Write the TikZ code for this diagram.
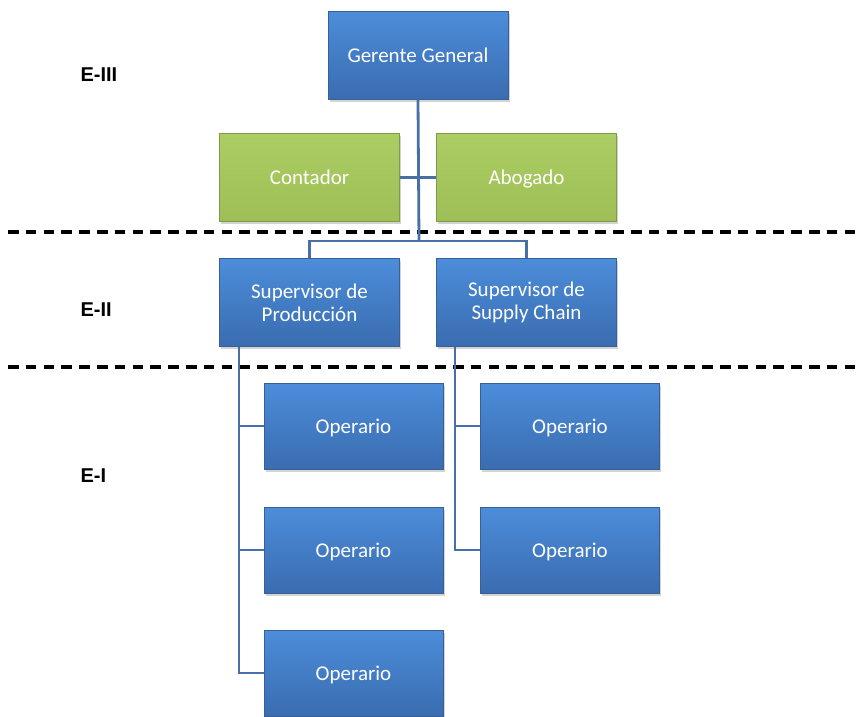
\documentclass[tikz,border=0pt]{standalone}
\usepackage{fontspec}
\usepackage{xcolor}
\usepackage{tikz}
\usetikzlibrary{shadows}
\newfontfamily\boxfont{Carlito}
\newfontfamily\lblfont{Liberation Sans}
\definecolor{boxtop}{RGB}{76,141,218}
\definecolor{boxbot}{RGB}{58,108,176}
\definecolor{boxedge}{RGB}{55,96,150}
\definecolor{grntop}{RGB}{172,204,100}
\definecolor{grnbot}{RGB}{158,190,86}
\definecolor{grnedge}{RGB}{128,155,72}
\definecolor{linkcol}{RGB}{72,112,166}

\begin{document}
\begin{tikzpicture}[
  x=1pt, y=-1pt,
  blu/.style={draw=boxedge, line width=0.8pt, top color=boxtop, bottom color=boxbot, text=white, align=center,
    minimum width=180pt, minimum height=88pt, font=\boxfont\fontsize{21}{23}\selectfont,
    drop shadow={shadow xshift=1.5pt, shadow yshift=-2.5pt, opacity=.35}},
  one/.style={text height=14pt, text depth=0pt},
  grn/.style={blu, one, draw=grnedge, top color=grntop, bottom color=grnbot},
  opr/.style={blu, one, minimum width=179pt, minimum height=86pt},
  lvl/.style={anchor=west, font=\lblfont\bfseries\fontsize{20}{22}\selectfont},
  link/.style={draw=linkcol, line width=2.8pt},
  sep/.style={line width=4.2pt, dash pattern=on 10.5pt off 7.3pt}
]
\useasboundingbox (0,0) rectangle (859,716);

\node[blu, one] (gg) at (418,55) {Gerente General};
\node[grn] (cont) at (309.5,177.5) {Contador};
\node[grn] (abog) at (526.5,177.5) {Abogado};
\node[blu] (supP) at (309.5,302.5) {Supervisor de\\Producción};
\node[blu] (supS) at (526.5,302.5) {Supervisor de\\Supply Chain};
\node[opr] (opP1) at (353.5,426) {Operario};
\node[opr] (opP2) at (353.5,550) {Operario};
\node[opr] (opP3) at (353.5,673) {Operario};
\node[opr] (opS1) at (570,426)   {Operario};
\node[opr] (opS2) at (570,550)   {Operario};

\node[lvl] (e3) at (77,75)  {E-III};
\node[lvl] (e2) at (77,310) {E-II};
\node[lvl] (e1) at (77,476) {E-I};

\draw[sep] (8,232) -- (859,232);
\draw[sep] (8,367) -- (859,367);

\coordinate (bar)  at (419,241);
\coordinate (spP)  at (239,346.5);
\coordinate (spS)  at (455,346.5);

\draw[link] (gg.south) -- (bar);
\draw[link] (cont.east) -- (abog.west);
\draw[link] (supP.north) |- (bar) -| (supS.north);
\foreach \n in {opP1,opP2,opP3} \draw[link] (spP) |- (\n.west);
\foreach \n in {opS1,opS2} \draw[link] (spS) |- (\n.west);
\end{tikzpicture}
\end{document}
